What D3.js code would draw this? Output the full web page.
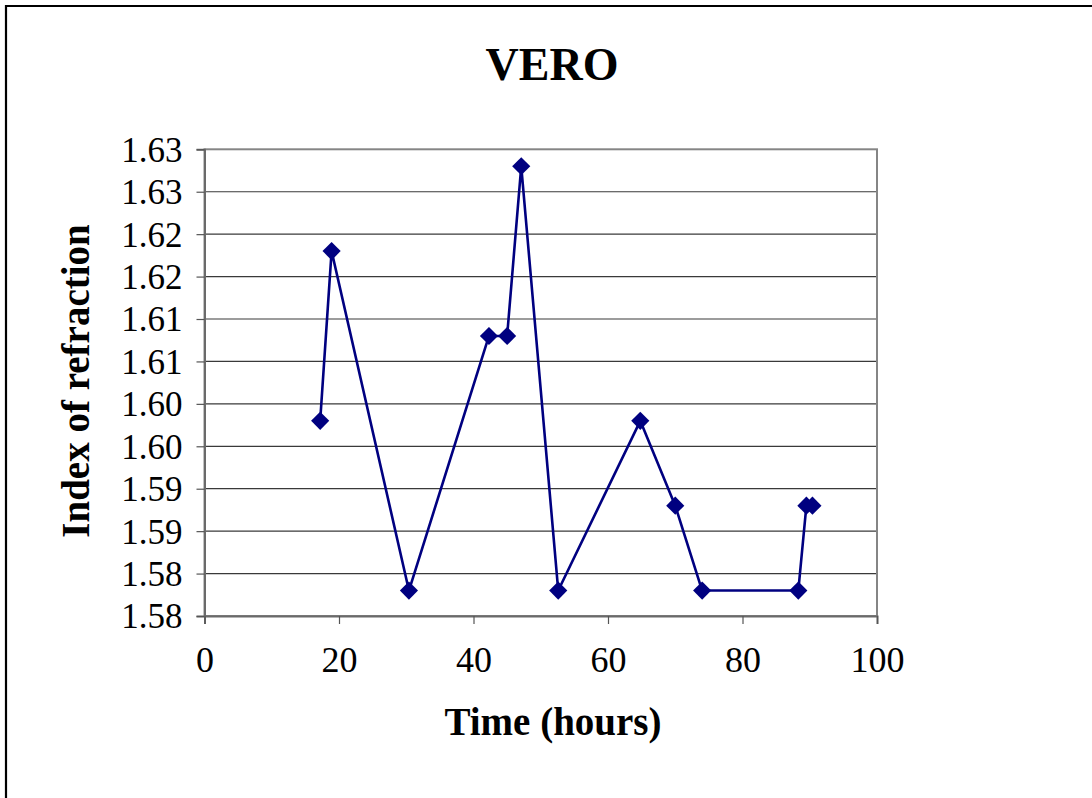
<!DOCTYPE html>
<html>
<head>
<meta charset="utf-8">
<script src="https://cdn.jsdelivr.net/npm/d3@7"></script>
<style>
  html, body { margin: 0; padding: 0; background: #fff; }
  svg { display: block; }
  text { font-family: "Liberation Serif", "Times New Roman", serif; fill: #000; }
</style>
</head>
<body>
<svg id="chart" width="1092" height="798"></svg>
<script>
// Refractive index of VERO cells over time
const hours = [17.2, 18.9, 30.4, 42.3, 45.0, 47.1, 52.6, 64.8, 70.0, 74.0, 88.3, 89.5, 90.4];
const refractiveIndex = [1.598, 1.618, 1.578, 1.608, 1.608, 1.628, 1.578, 1.598, 1.588, 1.578, 1.578, 1.588, 1.588];

const xTicks = [0, 20, 40, 60, 80, 100];
const yTicks = [1.575, 1.580, 1.585, 1.590, 1.595, 1.600, 1.605, 1.610, 1.615, 1.620, 1.625, 1.630];

const chartTitle = "VERO";
const xTitle = "Time (hours)";
const yTitle = "Index of refraction";

const svg = d3.select("#chart");
const W = 1092, H = 798;
const plot = { left: 204.5, right: 877, top: 149.3, bottom: 616 };

const x = d3.scaleLinear().domain([0, 100]).range([plot.left, plot.right]);
const y = d3.scaleLinear().domain([1.575, 1.630]).range([plot.bottom, plot.top]);

// two-decimal labels, rounding halves upward
const fmt2 = d => (Math.round(d * 100 + 1e-6) / 100).toFixed(2);

// outer chart frame (only left and top edges are in view)
svg.append("path")
  .attr("d", `M6,${H} V6 H${W}`)
  .attr("fill", "none").attr("stroke", "#000").attr("stroke-width", 2.2);

// title
svg.append("text")
  .attr("x", 552).attr("y", 80)
  .attr("text-anchor", "middle")
  .attr("font-size", 46).attr("font-weight", "bold")
  .text(chartTitle);

// horizontal gridlines
svg.append("g")
  .selectAll("line")
  .data(yTicks.slice(1, -1))
  .join("line")
  .attr("x1", plot.left).attr("x2", plot.right)
  .attr("y1", d => y(d)).attr("y2", d => y(d))
  .attr("stroke", "#3a3a3a").attr("stroke-width", 1.2);

// plot area border
svg.append("rect")
  .attr("x", plot.left).attr("y", plot.top)
  .attr("width", plot.right - plot.left).attr("height", plot.bottom - plot.top)
  .attr("fill", "none").attr("stroke", "#858585").attr("stroke-width", 2);

// y axis
const yAxis = d3.axisLeft(y)
  .tickValues(yTicks)
  .tickSize(8).tickPadding(14)
  .tickFormat(fmt2);
const gy = svg.append("g").attr("transform", `translate(${plot.left},0)`).call(yAxis);
gy.select(".domain").attr("stroke", "#6a6a6a").attr("stroke-width", 2);
gy.selectAll(".tick line").attr("stroke", "#555").attr("stroke-width", 1.2);
gy.selectAll("text")
  .attr("font-size", 35)
  .attr("font-family", "Liberation Serif, Times New Roman, serif")
  .attr("fill", "#000")
  .attr("dy", "0.34em");

// x axis
const xAxis = d3.axisBottom(x)
  .tickValues(xTicks)
  .tickSize(8).tickPadding(22)
  .tickFormat(d3.format("d"));
const gx = svg.append("g").attr("transform", `translate(0,${plot.bottom})`).call(xAxis);
gx.select(".domain").attr("stroke", "#6a6a6a").attr("stroke-width", 2);
gx.selectAll(".tick line").attr("stroke", "#555").attr("stroke-width", 1.2);
gx.selectAll("text")
  .attr("font-size", 36)
  .attr("font-family", "Liberation Serif, Times New Roman, serif")
  .attr("fill", "#000");

// axis titles
svg.append("text")
  .attr("x", 553).attr("y", 735)
  .attr("text-anchor", "middle")
  .attr("font-size", 39).attr("font-weight", "bold")
  .text(xTitle);

svg.append("text")
  .attr("transform", "translate(89,381) rotate(-90)")
  .attr("text-anchor", "middle")
  .attr("font-size", 39).attr("font-weight", "bold")
  .text(yTitle);

// series line and diamond markers
const points = hours.map((h, i) => [h, refractiveIndex[i]]);
const navy = "#000080";

svg.append("path")
  .datum(points)
  .attr("d", d3.line().x(d => x(d[0])).y(d => y(d[1])))
  .attr("fill", "none").attr("stroke", navy).attr("stroke-width", 2.6)
  .attr("stroke-linejoin", "round");

const diamond = d3.symbol().type(d3.symbolSquare).size(165);
svg.append("g")
  .selectAll("path")
  .data(points)
  .join("path")
  .attr("d", diamond)
  .attr("transform", d => `translate(${x(d[0])},${y(d[1])}) rotate(45)`)
  .attr("fill", navy);
</script>
</body>
</html>
